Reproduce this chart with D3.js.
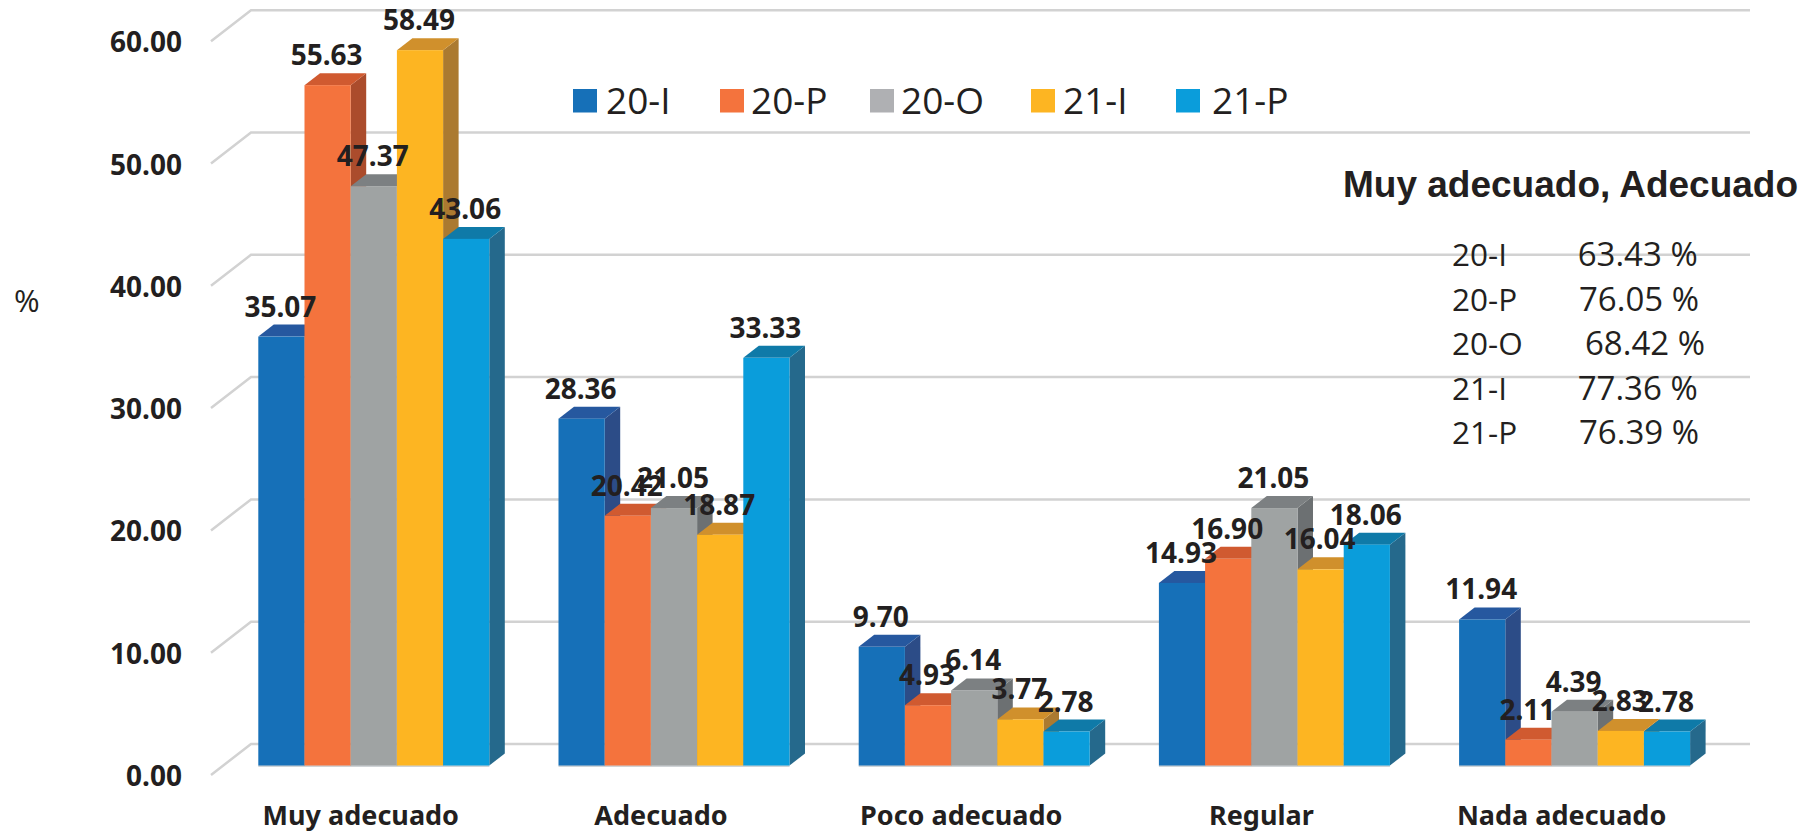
<!DOCTYPE html>
<html>
<head>
<meta charset="utf-8">
<script src="https://cdn.jsdelivr.net/npm/d3@7"></script>
<style>
html, body { margin: 0; padding: 0; background: #fff; overflow: hidden; }
svg { display: block; }
text { fill: #231f20; }
.bold { font-family: "Noto Sans", sans-serif; font-weight: 700; font-size: 28px; }
.light { font-family: "Open Sans", sans-serif; font-weight: 400; font-size: 33px; }
</style>
</head>
<body>
<div id="chart"></div>
<script>
var categories = ["Muy adecuado", "Adecuado", "Poco adecuado", "Regular", "Nada adecuado"];
var seriesNames = ["20-I", "20-P", "20-O", "21-I", "21-P"];

var v20I = [35.07, 28.36, 9.70, 14.93, 11.94];
var v20P = [55.63, 20.42, 4.93, 16.90, 2.11];
var v20O = [47.37, 21.05, 6.14, 21.05, 4.39];
var v21I = [58.49, 18.87, 3.77, 16.04, 2.83];
var v21P = [43.06, 33.33, 2.78, 18.06, 2.78];
var seriesValues = [v20I, v20P, v20O, v21I, v21P];

var yTicks = [0, 10, 20, 30, 40, 50, 60];

var summaryTitle = "Muy adecuado, Adecuado";
var summaryValues = ["63.43 %", "76.05 %", "68.42 %", "77.36 %", "76.39 %"];

var frontColors = ["#1670b8", "#f4733d", "#9fa3a3", "#fdb522", "#0a9ddb"];
var topColors = ["#26589f", "#d05a30", "#7c8082", "#d0902c", "#0f7aa8"];
var sideColors = ["#2c4c87", "#ab4c2c", "#6c7072", "#ab7a30", "#25698c"];
var legendColors = ["#1670b8", "#f4733d", "#afb0b3", "#fdb522", "#0a9ddb"];

var width = 1818;
var height = 832;
var depthX = 15.5;
var depthY = 12;

var svg = d3.select("#chart")
    .append("svg")
    .attr("width", width)
    .attr("height", height);

var yScale = d3.scaleLinear().domain([0, 60]).range([765.5, 31.7]);

var xGroup = d3.scaleBand()
    .domain(categories)
    .range([258.3, 1690.1])
    .paddingInner(0.2305)
    .paddingOuter(0);

var xBar = d3.scaleBand()
    .domain(seriesNames)
    .range([0, xGroup.bandwidth()]);

// back wall grid, the lines sit behind and above the bars
var grid = svg.append("g").attr("class", "grid");
yTicks.forEach(function(t) {
    var back = yScale(t) - 21.5;
    grid.append("path")
        .attr("d", "M211," + (back + 31) + "L251," + back + "L1750," + back)
        .attr("fill", "none")
        .attr("stroke", "#d2d2d2")
        .attr("stroke-width", 2.5);
});

var yAxis = d3.axisLeft(yScale)
    .tickValues(yTicks)
    .tickSize(0)
    .tickPadding(0)
    .tickFormat(d3.format(".2f"));

var yAxisG = svg.append("g")
    .attr("transform", "translate(182,0)")
    .call(yAxis);
yAxisG.select(".domain").remove();
yAxisG.selectAll("text")
    .attr("class", "bold")
    .attr("dy", "20px")
    .style("font-size", "28px")
    .style("font-family", "'Noto Sans', sans-serif");

// bars, one group per category
categories.forEach(function(cat, c) {
    var g = svg.append("g").attr("transform", "translate(" + xGroup(cat) + ",0)");
    var w = xBar.bandwidth();
    g.append("rect")
        .attr("x", 0)
        .attr("y", yScale(0) - 0.5)
        .attr("width", xBar.range()[1])
        .attr("height", 2)
        .attr("fill", "#cfd3d6");
    seriesNames.forEach(function(name, s) {
        var x0 = xBar(name);
        var x1 = x0 + w;
        var yTop = yScale(seriesValues[s][c]);
        var yBase = yScale(0);
        g.append("path")
            .attr("d", "M" + x1 + "," + yTop + "L" + (x1 + depthX) + "," + (yTop - depthY) +
                "L" + (x1 + depthX) + "," + (yBase - depthY) + "L" + x1 + "," + yBase + "Z")
            .attr("fill", sideColors[s]);
        g.append("path")
            .attr("d", "M" + x0 + "," + yTop + "L" + (x0 + depthX) + "," + (yTop - depthY) +
                "L" + (x1 + depthX) + "," + (yTop - depthY) + "L" + x1 + "," + yTop + "Z")
            .attr("fill", topColors[s]);
        g.append("rect")
            .attr("x", x0)
            .attr("y", yTop)
            .attr("width", w)
            .attr("height", yBase - yTop)
            .attr("fill", frontColors[s]);
    });
});

// data labels go on top of every bar, they overlap like in the original
categories.forEach(function(cat, c) {
    seriesNames.forEach(function(name, s) {
        var val = seriesValues[s][c];
        svg.append("text")
            .attr("class", "bold")
            .attr("text-anchor", "middle")
            .attr("x", xGroup(cat) + xBar(name) + xBar.bandwidth() / 2 - 1)
            .attr("y", yScale(val) - 20)
            .text(val.toFixed(2));
    });
    svg.append("text")
        .attr("class", "bold")
        .attr("text-anchor", "middle")
        .attr("x", xGroup(cat) + xGroup.bandwidth() / 2 - 13)
        .attr("y", 825)
        .style("font-size", "27px")
        .text(cat);
});

svg.append("text")
    .attr("class", "light")
    .attr("x", 14)
    .attr("y", 312)
    .style("font-size", "31px")
    .text("%");

// legend
var legendSwatchX = [573, 720, 870, 1031, 1176];
var legendTextX = [606, 751, 901, 1063, 1212];
seriesNames.forEach(function(name, s) {
    svg.append("rect")
        .attr("x", legendSwatchX[s])
        .attr("y", 89)
        .attr("width", 24)
        .attr("height", 23.5)
        .attr("fill", legendColors[s]);
    svg.append("text")
        .attr("class", "light")
        .attr("x", legendTextX[s])
        .attr("y", 114)
        .style("font-size", "37px")
        .text(name);
});

// summary block on the right
svg.append("text")
    .attr("x", 1343)
    .attr("y", 197)
    .style("font-family", "'Liberation Sans', sans-serif")
    .style("font-weight", 700)
    .style("font-size", "37px")
    .text(summaryTitle);

var summaryY = [266, 310.7, 355, 400, 444];
var summaryX = [1577.7, 1579, 1585, 1577.7, 1579];
seriesNames.forEach(function(name, s) {
    svg.append("text")
        .attr("class", "light")
        .attr("x", 1452)
        .attr("y", summaryY[s])
        .style("font-size", "31.5px")
        .text(name);
    svg.append("text")
        .attr("class", "light")
        .attr("x", summaryX[s])
        .attr("y", summaryY[s])
        .text(summaryValues[s]);
});
</script>
</body>
</html>
